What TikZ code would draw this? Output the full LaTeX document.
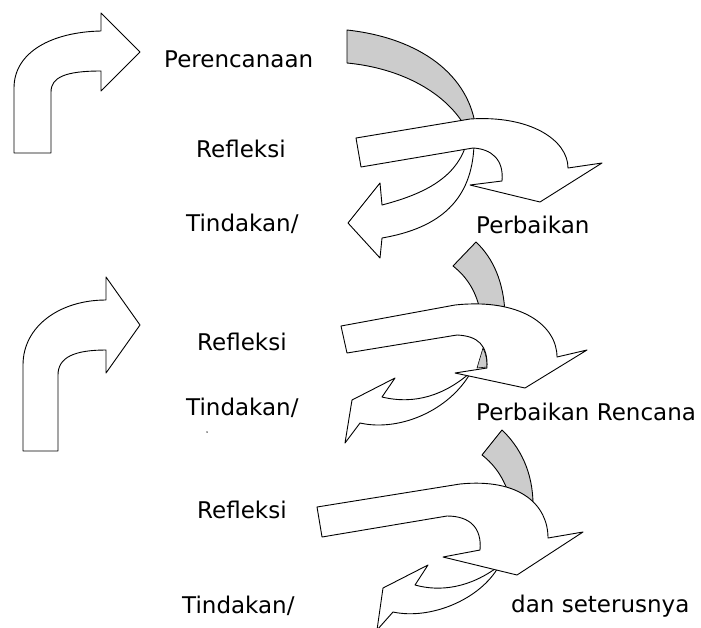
\documentclass[tikz,border=0pt]{standalone}
\usepackage{fontspec}
\setmainfont{DejaVu Sans}
\definecolor{arcgray}{RGB}{204,204,204}
\begin{document}
\begin{tikzpicture}[x=1pt,y=-1pt,
  arrowshape/.style={draw=black, line width=0.9pt, fill=white, line join=round},
  grayshape/.style={arrowshape, fill=arcgray},
  lbl/.style={anchor=base west, inner sep=0pt, font=\fontsize{23}{27}\selectfont}]
\useasboundingbox (0,0) rectangle (701,627);
\fill[white] (0,0) rectangle (701,627);

% left bent arrows
\draw[arrowshape] (14,153) -- (14,88) .. controls (14,52) and (52,32) .. (101,31)
  -- (101,13) -- (140,52) -- (101,91) -- (101,71)
  .. controls (66,71) and (51,77) .. (51,92) -- (51,153) -- cycle;
\draw[arrowshape] (23,451) -- (23,365) .. controls (23,326) and (60,300) .. (106,300)
  -- (106,277) -- (140,325) -- (106,373) -- (106,350)
  .. controls (75,350) and (58,357) .. (58,375) -- (58,451) -- cycle;

% group 1
\draw[grayshape] (347,30) -- (347,63) .. controls (400,68) and (447,92) .. (467,130)
  -- (476,130) .. controls (470,75) and (420,38) .. (347,30) -- cycle;
\draw[arrowshape] (466,145) .. controls (455,180) and (420,195) .. (382,205)
  -- (380,183) -- (348,223) -- (380,258) -- (382,238)
  .. controls (440,228) and (472,200) .. (474,145) -- cycle;
\draw[arrowshape] (356,138) -- (470,119) .. controls (530,115) and (568,140) .. (568,168)
  -- (602,163) -- (540,202) -- (470,185) -- (502,181)
  .. controls (504,160) and (492,149) .. (473,148) -- (361,167) -- cycle;

% group 2
\draw[grayshape] (453,266) -- (476,242) .. controls (493,258) and (504,282) .. (505,315)
  -- (481,315) .. controls (477,292) and (467,277) .. (453,266) -- cycle;
\draw[grayshape, line width=0.6pt] (477,368) -- (483,348) .. controls (486,354) and (487,360) .. (487,367) -- cycle;
\draw[arrowshape] (471,372) .. controls (445,395) and (415,405) .. (382,397)
  -- (395,378) -- (352,400) -- (345,443) -- (360,423)
  .. controls (400,432) and (450,410) .. (471,372) -- cycle;
\draw[arrowshape] (341,326) -- (455,305) .. controls (520,298) and (557,325) .. (557,357)
  -- (587,350) -- (525,388) -- (455,373) -- (487,368)
  .. controls (488,345) and (478,336) .. (457,335) -- (347,353) -- cycle;

% group 3
\draw[grayshape] (482,455) -- (502,430) .. controls (520,447) and (533,472) .. (533,505)
  -- (512,505) .. controls (506,480) and (495,465) .. (482,455) -- cycle;
\draw[arrowshape] (499,566) .. controls (470,588) and (440,592) .. (415,585)
  -- (428,565) -- (383,588) -- (377,630) -- (393,612)
  .. controls (430,620) and (480,600) .. (499,566) -- cycle;
\draw[arrowshape] (317,507) -- (460,484) .. controls (520,478) and (548,505) .. (548,538)
  -- (583,532) -- (517,575) -- (443,557) -- (480,550)
  .. controls (482,528) and (470,516) .. (447,516) -- (322,537) -- cycle;

% labels
\node[lbl] (plan) at (164,67) {Perencanaan};
\node[lbl] (ref1) at (196,157) {Refleksi};
\node[lbl] (tin1) at (186,231) {Tindakan/};
\node[lbl] (per1) at (476,233) {Perbaikan};
\node[lbl] (ref2) at (197,350) {Refleksi};
\node[lbl] (tin2) at (186,415) {Tindakan/};
\node[circle, fill=black!60, inner sep=0.7pt] (dot) at (207,432) {};
\node[lbl] (per2) at (476,420) {Perbaikan Rencana};
\node[lbl] (ref3) at (197,518) {Refleksi};
\node[lbl] (tin3) at (182,613) {Tindakan/};
\node[lbl] (dan) at (511,612) {dan seterusnya};
\end{tikzpicture}
\end{document}
